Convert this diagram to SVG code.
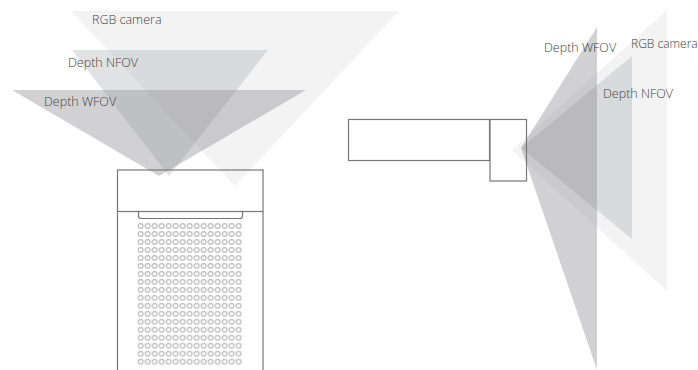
<svg xmlns="http://www.w3.org/2000/svg" width="698" height="370" viewBox="0 0 698 370">
<style>
.l{font-family:"Open Sans","Liberation Sans",sans-serif;font-size:12.5px;font-weight:300;fill:#444}
.s{font-size:12px}
.o{fill:none;stroke:#777;stroke-width:1.2}
.d{fill:none;stroke:#bbb;stroke-width:1.2}
.rgb{fill:#c8c8c8;fill-opacity:.22}
.nf{fill:#a8adb0;fill-opacity:.35}
.wf{fill:#8c8c90;fill-opacity:.4}
</style>
<defs>
<pattern id="dots" x="137.200" y="222" width="7" height="7.98" patternUnits="userSpaceOnUse">
<circle class="d" cx="3.500" cy="3.990" r="2.400"/>
</pattern>
<filter id="soft" x="-5%" y="-5%" width="110%" height="110%"><feGaussianBlur stdDeviation="0.4"/></filter>
</defs>
<g id="connectors"></g>
<g id="fov-top" filter="url(#soft)">
<polygon class="rgb" points="71,11 399,11 235,186"/>
<polygon class="nf" points="72,50 268,50 169,176"/>
<polygon class="wf" points="12,90 306,90 159,176"/>
</g>
<g id="fov-side" filter="url(#soft)">
<polygon class="rgb" points="667,10 667,291 512,150"/>
<polygon class="nf" points="632,56 632,239 521,148"/>
<polygon class="wf" points="597,27 597,370 521,148"/>
</g>
<g id="device-front" filter="url(#soft)">
<rect class="o" x="117.500" y="170" width="145.500" height="41.500"/>
<path class="o" d="M117.500 211.500V370M263 211.500V370"/>
<path class="o" d="M138.500 211.500V216q0 2.500 2.500 2.500H240q2.500 0 2.500-2.500V211.500"/>
<rect x="137.200" y="222" width="105" height="143.640" fill="url(#dots)"/>
</g>
<g id="device-side" filter="url(#soft)">
<rect class="o" x="348.500" y="119.500" width="141" height="41"/>
<rect class="o" x="490" y="119.500" width="36.500" height="61.500"/>
</g>
<text class="l" x="92" y="24">RGB camera</text>
<text class="l" x="68" y="67">Depth NFOV</text>
<text class="l" x="44" y="106">Depth WFOV</text>
<text class="l" x="544" y="52">Depth WFOV</text>
<text class="l s" x="631" y="48">RGB camera</text>
<text class="l" x="603" y="98">Depth NFOV</text>
</svg>
